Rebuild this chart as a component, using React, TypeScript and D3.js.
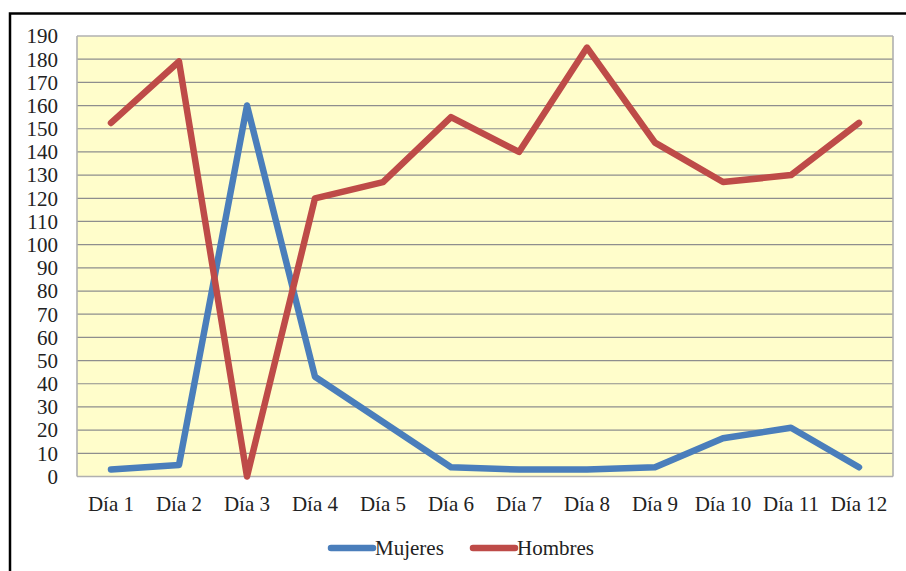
import React from "react";
import * as d3 from "d3";

const categories = ["Día 1","Día 2","Día 3","Día 4","Día 5","Día 6","Día 7","Día 8","Día 9","Día 10","Día 11","Día 12"];
const mujeres = [3, 5, 160, 43, 23.5, 4, 3, 3, 4, 16.5, 21, 4];
const hombres = [152.5, 179, 0, 120, 127, 155, 140, 185, 144, 127, 130, 152.5];
const yTicks = d3.range(0, 200, 10);
const seriesNames = ["Mujeres", "Hombres"];
const colors = ["#4A7EBB", "#BE4B48"];

export default function App() {
  const W = 906, H = 571;
  const left = 77, right = 893, top = 36, bottom = 476.5;
  const x = d3.scaleBand<string>().domain(categories).range([left, right]);
  const y = d3.scaleLinear().domain([0, 190]).range([bottom, top]);
  const line = d3.line<number>()
    .x((_, i) => (x(categories[i]) as number) + x.bandwidth() / 2)
    .y((d) => y(d));
  const font = "'Liberation Serif', serif";
  const fs = 21;
  const series = [mujeres, hombres];
  const legendItems = [
    { lx: 331, tx: 375 },
    { lx: 473, tx: 517 },
  ];
  return (
    <svg width={W} height={H} style={{ position: "absolute", left: 0, top: 0 }}>
      <rect x={0} y={0} width={W} height={H} fill="#fff" />
      <rect x={10} y={13.5} width={W + 20} height={H + 20} fill="#fff" stroke="#000" strokeWidth={2.5} />
      <rect x={left} y={top} width={right - left} height={bottom - top} fill="#FFFDCB" />
      {yTicks.map((t) => (
        <line key={t} x1={left} x2={right} y1={y(t)} y2={y(t)} stroke={t === 0 || t === 190 ? "#B0B0B0" : "#8E8E8E"} strokeWidth={t === 0 || t === 190 ? 1.6 : 1.2} />
      ))}
      <line x1={left} x2={left} y1={top} y2={bottom} stroke="#B0B0B0" strokeWidth={1.6} />
      <line x1={right} x2={right} y1={top} y2={bottom} stroke="#B0B0B0" strokeWidth={1.6} />
      {yTicks.map((t) => (
        <text key={t} x={58} y={y(t)} dy="0.35em" textAnchor="end" fontFamily={font} fontSize={fs} fill="#222">{t}</text>
      ))}
      {categories.map((c) => (
        <text key={c} x={(x(c) as number) + x.bandwidth() / 2} y={511} textAnchor="middle" fontFamily={font} fontSize={fs} fill="#222">{c}</text>
      ))}
      {series.map((s, i) => (
        <path key={i} d={line(s) || ""} fill="none" stroke={colors[i]} strokeWidth={6.5} strokeLinecap="round" strokeLinejoin="round" />
      ))}
      {seriesNames.map((n, i) => (
        <g key={n}>
          <line x1={legendItems[i].lx} x2={legendItems[i].lx + 42} y1={548} y2={548} stroke={colors[i]} strokeWidth={6.5} strokeLinecap="round" />
          <text x={legendItems[i].tx} y={548} dy="0.35em" fontFamily={font} fontSize={fs} fill="#222">{n}</text>
        </g>
      ))}
    </svg>
  );
}
